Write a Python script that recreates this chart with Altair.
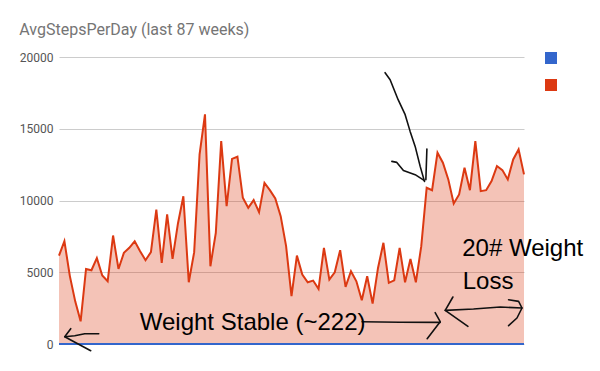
import altair as alt
import pandas as pd

weeks = list(range(1, 88))
avg_steps = [6160, 7160, 4750, 2970, 1580, 5230, 5140, 5980, 4770, 4370,
             7560, 5230, 6350, 6700, 7160, 6470, 5840, 6400, 9370, 5650,
             9030, 5930, 8400, 10300, 4300, 6400, 13210, 16000, 5420, 7750,
             14140, 9600, 12900, 13050, 10190, 9490, 10030, 9190, 11230, 10720,
             10140, 8910, 6820, 3330, 6160, 4840, 4300, 4420, 3840, 6700,
             4490, 5000, 6540, 3980, 5070, 4370, 3050, 4720, 2810, 5300,
             7050, 4260, 4440, 6700, 4300, 5930, 4300, 6820, 10890, 10720,
             13330, 12630, 11470, 9790, 10420, 12280, 10720, 14140, 10650, 10720,
             11350, 12400, 12120, 11470, 12860, 13560, 11820]
blue_series = [0, 0, 0, 0, 0, 0, 0, 0, 0, 0, 0, 0, 0, 0, 0, 0, 0, 0, 0, 0,
               0, 0, 0, 0, 0, 0, 0, 0, 0, 0, 0, 0, 0, 0, 0, 0, 0, 0, 0, 0,
               0, 0, 0, 0, 0, 0, 0, 0, 0, 0, 0, 0, 0, 0, 0, 0, 0, 0, 0, 0,
               0, 0, 0, 0, 0, 0, 0, 0, 0, 0, 0, 0, 0, 0, 0, 0, 0, 0, 0, 0,
               0, 0, 0, 0, 0, 0, 0]
series_names = ["Series A", "AvgStepsPerDay"]
series_colors = ["#3366CC", "#DC3912"]
y_ticks = [0, 5000, 10000, 15000, 20000]

# hand-drawn annotation strokes (in week / steps units)
stroke_id = ["a"] * 4 + ["b"] * 4 + ["c"] * 3 + ["d"] * 3 + ["e"] * 3 + ["f"] * 4 + ["g"] * 5 + ["h"] * 9 + ["i"] * 5 + ["j"] * 2
stroke_week = [8.35, 5.76, 3.91, 2.06,
               3.17, 2.06, 4.46, 6.87,
               57.06, 64.09, 71.5,
               70.57, 71.5, 69.09,
               73.85, 72.43, 76.63,
               72.43, 77.67, 82.61, 86.63,
               84.15, 86.0, 86.63, 85.7, 84.15,
               61.31, 62.24, 62.98, 63.72, 65.02, 65.94, 66.87, 67.8, 68.59,
               62.56, 63.48, 64.7, 66.87, 68.59,
               69.04, 68.85]
stroke_steps = [718, 718, 578, 509,
                1066, 509, 21, -467,
                1554, 1519, 1505,
                2181, 1554, 369,
                3275, 2342, 1227,
                2342, 2439, 2579, 2509,
                3087, 2969, 2509, 1812, 1275,
                18907, 18419, 17722, 17025, 15980, 14816, 13771, 12377, 11332,
                12725, 12656, 12098, 11798, 11380,
                13590, 11450]

note_text = ["Weight Stable (~222)", "20# Weight", "Loss"]
note_week = [15.94, 75.57, 75.67]
note_steps = [948, 6153, 3833]

steps_df = pd.DataFrame({"week": weeks, "steps": avg_steps})
blue_df = pd.DataFrame({"week": weeks, "steps": blue_series})
legend_df = pd.DataFrame({"series": series_names})
stroke_df = pd.DataFrame({"sid": stroke_id, "ord": list(range(len(stroke_id))),
                          "week": stroke_week, "steps": stroke_steps})
note_df = pd.DataFrame({"label": note_text, "week": note_week, "steps": note_steps})

x_enc = alt.X("week:Q", scale=alt.Scale(domain=[1, 87], nice=False, zero=False), axis=None)
y_enc = alt.Y("steps:Q", scale=alt.Scale(domain=[0, 20000], nice=False), stack=None,
              axis=alt.Axis(values=y_ticks, title=None, grid=True, gridColor="#cccccc",
                            domain=False, ticks=False, labelPadding=6, format="d",
                            labelFont="Roboto", labelFontSize=12, labelColor="#555555"))

area = alt.Chart(steps_df).mark_area(color="#DC3912", fillOpacity=0.3).encode(x=x_enc, y=y_enc)
red_line = alt.Chart(steps_df).mark_line(color="#DC3912", strokeWidth=2).encode(x=x_enc, y=y_enc)
blue_line = alt.Chart(blue_df).mark_line(color="#3366CC", strokeWidth=2).encode(x=x_enc, y=y_enc)

legend_layer = alt.Chart(legend_df).mark_point(filled=True, shape="square", opacity=0, size=0).encode(
    color=alt.Color("series:N", sort=series_names,
                    scale=alt.Scale(domain=series_names, range=series_colors),
                    legend=alt.Legend(orient="none", legendX=486, legendY=-5, title=None,
                                      symbolType="square", symbolSize=144, symbolOpacity=1,
                                      symbolStrokeWidth=0, labelExpr="''", rowPadding=15,
                                      padding=0, labelFontSize=12))
)

strokes = alt.Chart(stroke_df).mark_line(color="#111111", strokeWidth=1.6, strokeCap="round",
                                         strokeJoin="round").encode(
    x=x_enc, y=y_enc, detail="sid:N", order="ord:Q")

notes = alt.Chart(note_df).mark_text(align="left", baseline="alphabetic", font="Liberation Sans",
                                     fontSize=24, color="#000000").encode(
    x=x_enc, y=y_enc, text="label:N")

chart = alt.layer(area, blue_line, red_line, strokes, notes, legend_layer).properties(
    width=465, height=287,
    title=alt.TitleParams("AvgStepsPerDay (last 87 weeks)", anchor="start", font="Roboto",
                          fontSize=16, color="#757575", fontWeight="normal", offset=13),
    autosize=alt.AutoSizeParams(type="none"),
    padding={"left": 51, "top": 49, "right": 60, "bottom": 15},
).configure_view(stroke=None)

chart.save("out.html", embed_options={"renderer": "svg", "actions": False})
